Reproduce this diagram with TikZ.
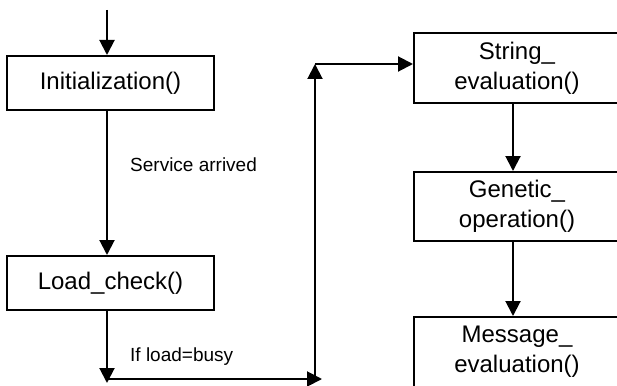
\documentclass[tikz,border=0pt]{standalone}
\usepackage{fontspec}
\setmainfont{Liberation Sans}
\usetikzlibrary{arrows.meta}
\begin{document}
\begin{tikzpicture}[x=1pt,y=-1pt,
  flow/.style={line width=2pt,-{Triangle[width=15pt,length=15pt]}},
  procbox/.style={draw,line width=2pt,rectangle,inner sep=0pt,align=center,
    font=\fontsize{24}{30}\selectfont},
  lbl/.style={anchor=west,inner sep=0pt,font=\fontsize{19}{22}\selectfont}]
\useasboundingbox (0,0) rectangle (617,385);
\clip (0,0) rectangle (617,385);

% left column
\node[procbox,minimum width=207pt,minimum height=54pt] (init) at (110.5,83) {Initialization()};
\node[procbox,minimum width=207pt,minimum height=54pt] (load) at (110.5,283) {Load\_check()};

% right column (runs past the right edge)
\node[procbox,minimum width=206pt,minimum height=70pt] (str) at (517,68) {String\_\\evaluation()};
\node[procbox,minimum width=206pt,minimum height=69pt] (gen) at (517,206.5) {Genetic\_\\operation()};
\node[procbox,minimum width=206pt,minimum height=70pt] (msg) at (517,352) {Message\_\\evaluation()};

% routing points
\coordinate (top) at (107,10);
\coordinate (down) at (107,383);
\coordinate (bl) at (107,379);
\coordinate (br) at (322,379);
\coordinate (rb) at (315,379);
\coordinate (rt) at (315,64);

% connectors
\draw[flow] (top) -- (top |- init.north);
\draw[flow] (top |- init.south) -- (top |- load.north);
\draw[flow] (top |- load.south) -- (down);
\draw[flow] (bl) -- (br);
\draw[flow] (rb) -- (rt);
\draw[flow] (rt) -- (rt -| str.west);
\draw[flow] ([xshift=100pt]str.south west) -- ([xshift=100pt]gen.north west);
\draw[flow] ([xshift=100pt]gen.south west) -- ([xshift=100pt]msg.north west);

% labels
\node[lbl] (svc) at (130,165) {Service arrived};
\node[lbl] (busy) at (130,357) {If load=busy};
\end{tikzpicture}
\end{document}
